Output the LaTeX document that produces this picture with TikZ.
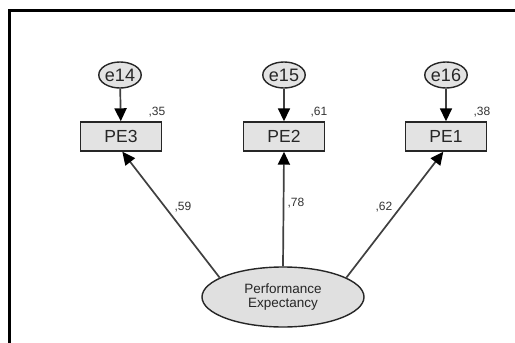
\documentclass[tikz,border=0pt]{standalone}
\usepackage{fontspec}
\setmainfont{Liberation Sans}
\usetikzlibrary{arrows.meta,shapes.geometric}
\begin{document}
\begin{tikzpicture}[x=1pt,y=-1pt,
  obs/.style={draw=black!85, line width=1.4pt, fill=black!11, minimum width=81pt,
    minimum height=29pt, inner sep=0pt, text=black!85, font=\fontsize{17.5}{17.5}\selectfont},
  err/.style={ellipse, draw=black!85, line width=1.4pt, fill=black!11, minimum width=38pt,
    minimum height=26pt, inner sep=0pt, text=black!85, font=\fontsize{18}{18}\selectfont},
  lat/.style={ellipse, draw=black!85, line width=1.4pt, fill=black!12, minimum width=162pt,
    minimum height=60pt, inner sep=0pt, align=center, text=black!85,
    font=\fontsize{13.5}{13.5}\selectfont},
  arr/.style={draw=black!75, line width=1.7pt,
    -{Triangle[length=13pt,width=12pt,color=black]}},
  val/.style={font=\fontsize{12}{12}\selectfont, text=black!80, inner sep=0pt}
]
\useasboundingbox (0,0) rectangle (515,343);
\fill[white] (0,0) rectangle (515,343);

% frame
\draw[line width=3pt] (9.5,343) -- (9.5,10.5) -- (515,10.5);

% error terms
\node[err] (e14) at (120,75) {e14};
\node[err] (e15) at (284,75) {e15};
\node[err] (e16) at (446,75) {e16};

% observed indicators
\node[obs] (PE3) at (121,136.5) {PE3};
\node[obs] (PE2) at (284,136.5) {PE2};
\node[obs] (PE1) at (446,136.5) {PE1};

% latent factor
\node[lat] (PE) at (283,297) {Performance\\Expectancy};

% error paths
\draw[arr] (e14) -- (PE3);
\draw[arr] (e15) -- (PE2);
\draw[arr] (e16) -- (PE1);

% loadings
\draw[arr] (PE.163) -- (PE3.-85);
\draw[arr] (PE.north) -- (PE2.south);
\draw[arr] (PE.17) -- (PE1.-100);

% squared multiple correlations
\node[val] (r3) at (157,112) {,35};
\node[val] (r2) at (319,112) {,61};
\node[val] (r1) at (482,112) {,38};

% standardized loadings
\node[val] (l3) at (183,207) {,59};
\node[val] (l2) at (296,203) {,78};
\node[val] (l1) at (384,207) {,62};
\end{tikzpicture}
\end{document}
